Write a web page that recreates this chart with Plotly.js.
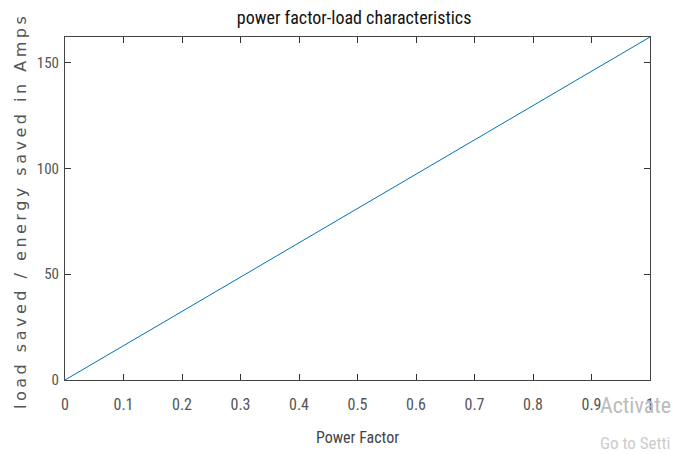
<!DOCTYPE html>
<html>
<head>
<meta charset="utf-8">
<script src="https://cdn.plot.ly/plotly-3.0.1.min.js"></script>
<style>html,body{margin:0;padding:0;background:#fff;}#chart{width:681px;height:454px;}
#chart .annotation[data-index="0"] text{letter-spacing:3.5px;}</style>
</head>
<body>
<div id="chart"></div>
<script>
const powerFactor = [0, 0.1, 0.2, 0.3, 0.4, 0.5, 0.6, 0.7, 0.8, 0.9, 1.0];
const loadSaved = [0, 16.2, 32.4, 48.6, 64.8, 81.0, 97.2, 113.4, 129.6, 145.8, 162.0];
const xTicks = [0, 0.1, 0.2, 0.3, 0.4, 0.5, 0.6, 0.7, 0.8, 0.9, 1];
const xTickLabels = ['0', '0.1', '0.2', '0.3', '0.4', '0.5', '0.6', '0.7', '0.8', '0.9', '1'];
const yTicks = [0, 50, 100, 150];
const yTickLabels = ['0', '50', '100', '150'];
const yLabel = 'load saved / energy saved in Amps';

const narrow = '"Liberation Sans Narrow", "Roboto Condensed", "DejaVu Sans Condensed", Arial, sans-serif';

const trace = {
  x: powerFactor, y: loadSaved, type: 'scatter', mode: 'lines',
  line: {color: '#0072BD', width: 1}, hoverinfo: 'skip'
};

const axisCommon = {
  showgrid: false, zeroline: false, showline: true, mirror: 'ticks',
  linecolor: '#444', linewidth: 1, ticks: 'inside', ticklen: 6, tickcolor: '#333',
  tickfont: {family: narrow, size: 16, color: '#555'}
};

const layout = {
  width: 681, height: 454,
  margin: {l: 65, r: 31, t: 37, b: 74},
  paper_bgcolor: '#fff', plot_bgcolor: '#fff',
  showlegend: false,
  title: {text: 'power factor-load characteristics', x: 0.52, xanchor: 'center', y: 0.96, yanchor: 'middle',
          font: {family: narrow, size: 18, color: '#111'}},
  xaxis: Object.assign({}, axisCommon, {
    range: [0, 1], tickvals: xTicks, ticktext: xTickLabels, ticklabelstandoff: 10,
    title: {text: 'Power Factor', standoff: 18, font: {family: narrow, size: 16, color: '#444'}}
  }),
  yaxis: Object.assign({}, axisCommon, {
    range: [0, 162], tickvals: yTicks, ticktext: yTickLabels, ticklabelstandoff: 2,
    tickfont: {family: narrow, size: 15, color: '#555'}
  }),
  annotations: [
    {text: yLabel, xref: 'paper', yref: 'paper', x: -0.077, y: 0.495, xanchor: 'center', yanchor: 'middle',
     textangle: -90, showarrow: false, font: {family: '"DejaVu Sans", sans-serif', size: 16, color: '#555'}},
    {text: 'Activate', xref: 'paper', yref: 'paper', x: 0.911, y: -0.075, xanchor: 'left', yanchor: 'middle',
     showarrow: false, font: {family: narrow, size: 22, color: '#bbb'}},
    {text: 'Go to Setti', xref: 'paper', yref: 'paper', x: 0.911, y: -0.184, xanchor: 'left', yanchor: 'middle',
     showarrow: false, font: {family: narrow, size: 17, color: '#ccc'}}
  ]
};

Plotly.newPlot('chart', [trace], layout, {displayModeBar: false, staticPlot: true});
</script>
</body>
</html>
